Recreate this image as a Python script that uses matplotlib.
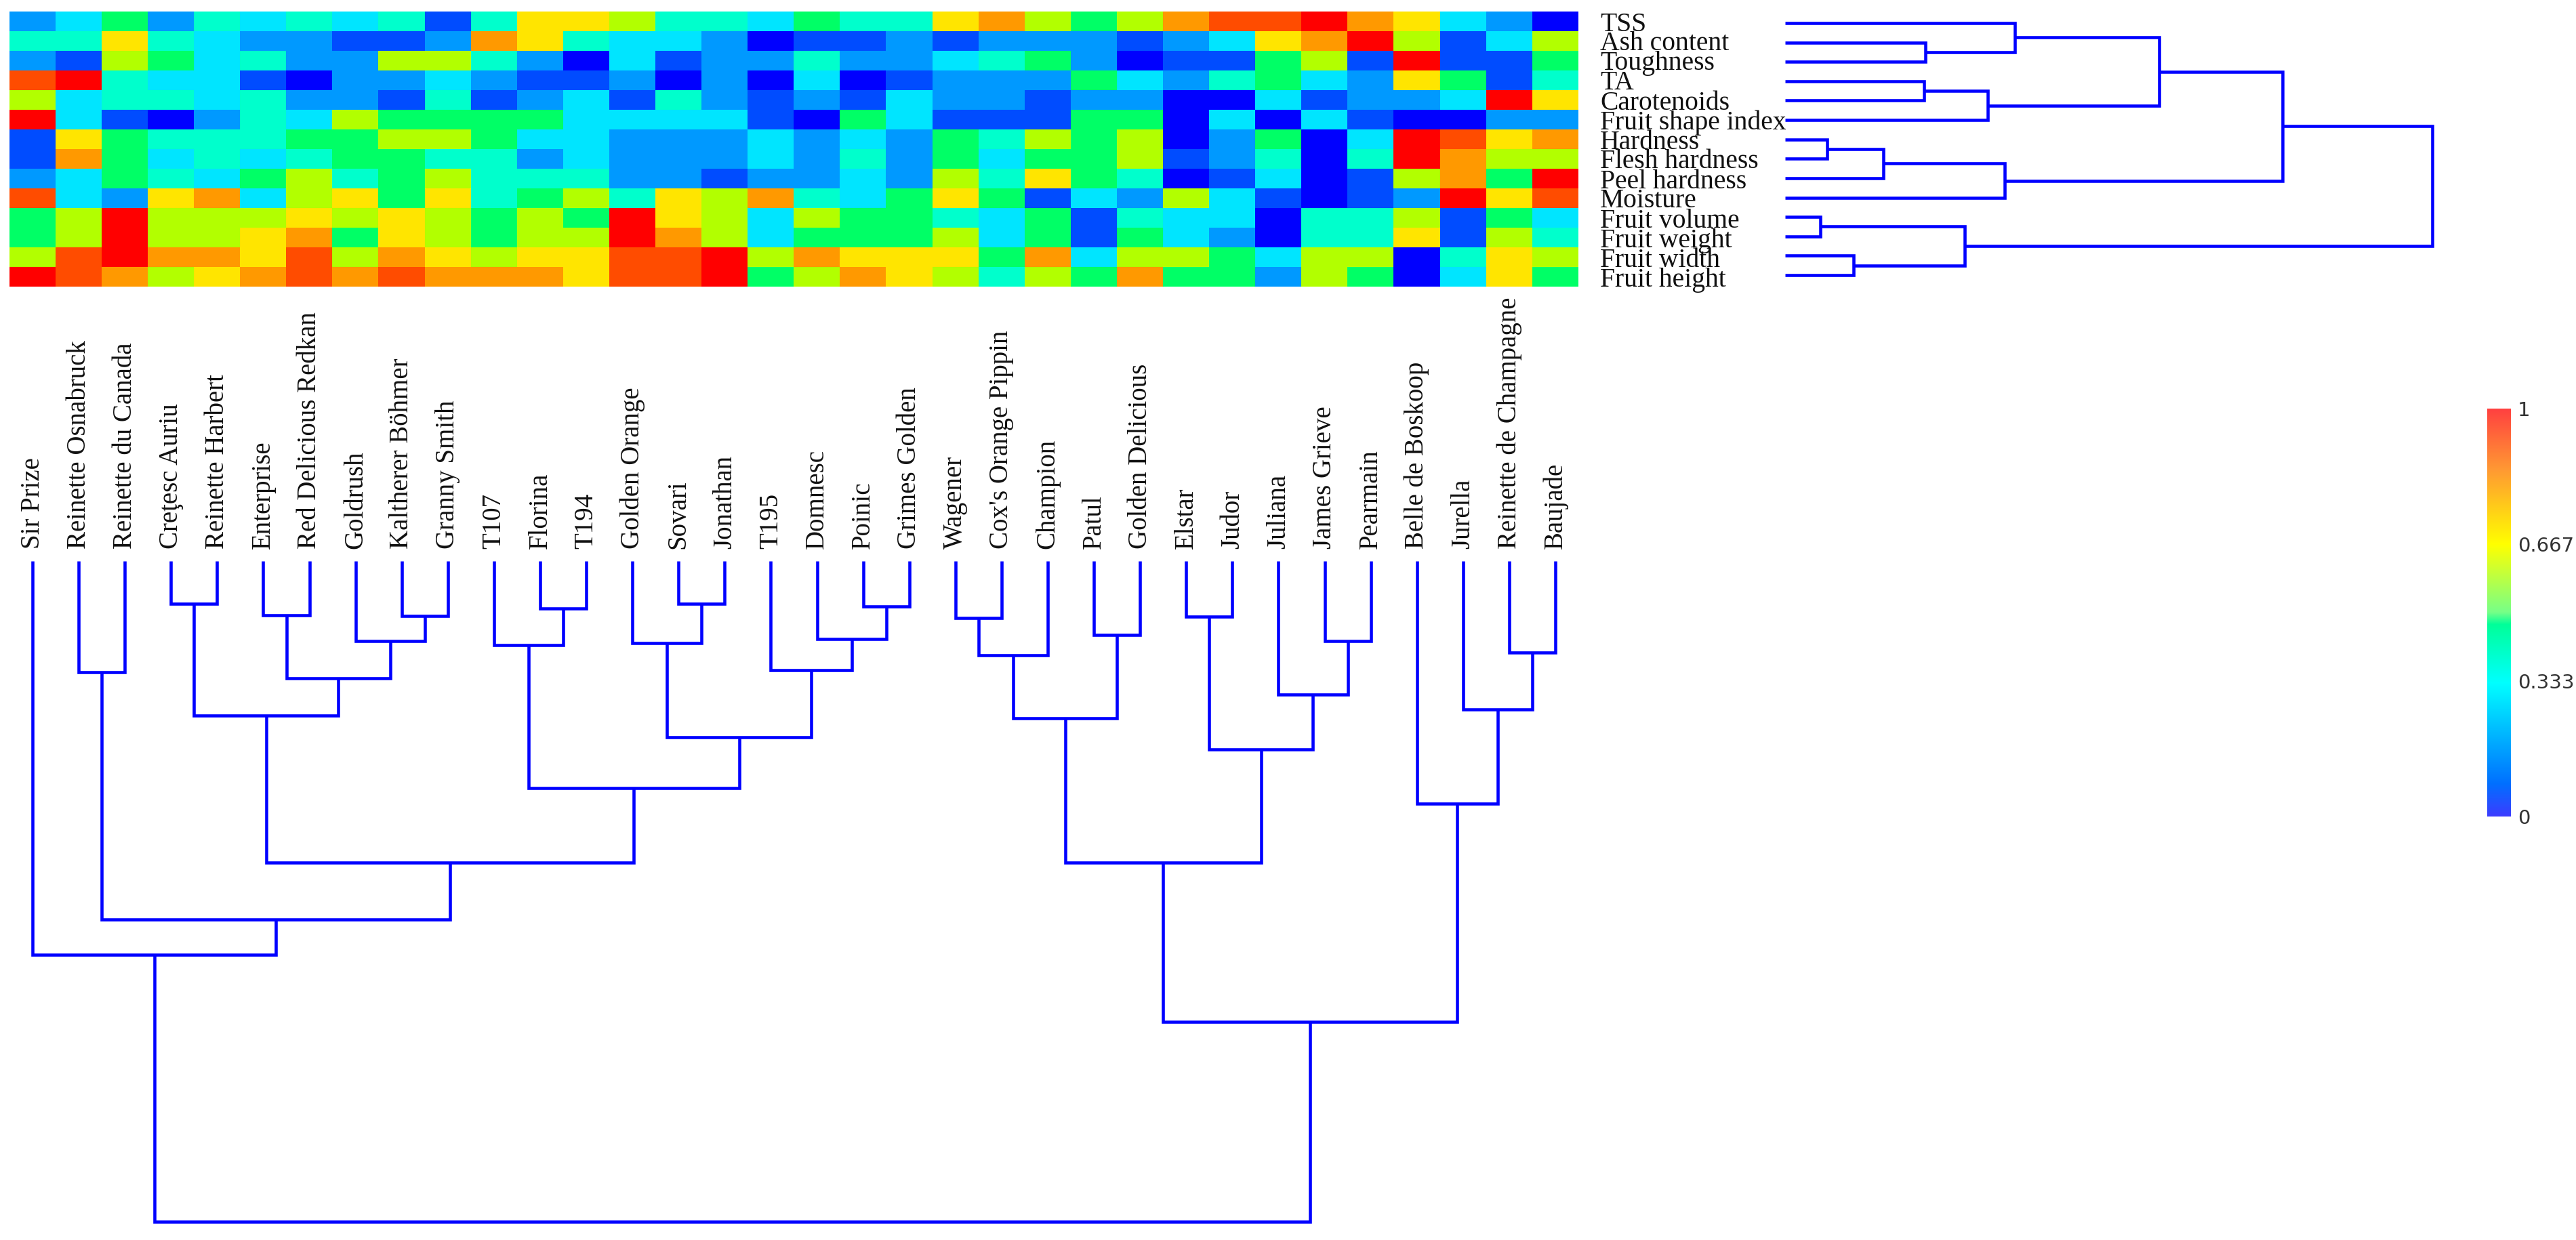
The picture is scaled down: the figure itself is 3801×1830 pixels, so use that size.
import numpy as np
import matplotlib
matplotlib.use("Agg")
import matplotlib.pyplot as plt
from matplotlib.colors import ListedColormap, LinearSegmentedColormap

W, H = 3801, 1830

cultivars = ["Sir Prize", "Reinette Osnabruck", "Reinette du Canada", "Creţesc Auriu",
             "Reinette Harbert", "Enterprise", "Red Delicious Redkan", "Goldrush",
             "Kaltherer Böhmer", "Granny Smith", "T107", "Florina", "T194", "Golden Orange",
             "Sovari", "Jonathan", "T195", "Domnesc", "Poinic", "Grimes Golden", "Wagener",
             "Cox's Orange Pippin", "Champion", "Patul", "Golden Delicious", "Elstar", "Judor",
             "Juliana", "James Grieve", "Pearmain", "Belle de Boskoop", "Jurella",
             "Reinette de Champagne", "Baujade"]

traits = ["TSS", "Ash content", "Toughness", "TA", "Carotenoids", "Fruit shape index",
          "Hardness", "Flesh hardness", "Peel hardness", "Moisture", "Fruit volume",
          "Fruit weight", "Fruit width", "Fruit height"]

# the cells only take 11 colours, so these are colour steps 0-10
tss =       [2,3,5,2,4,3,4,3,4,1,4,7,7,6,4,4,3,5,4,4,7,8,6,5,6,8,9,9,10,8,7,3,2,0]
ash =       [4,4,7,4,3,2,2,1,1,2,8,7,4,3,3,2,0,1,1,2,1,2,2,2,1,2,3,7,8,10,6,1,3,6]
tough =     [2,1,6,5,3,4,2,2,6,6,4,2,0,3,1,2,2,4,2,2,3,4,5,2,0,1,1,5,6,1,10,1,1,5]
ta =        [9,10,4,3,3,1,0,2,2,3,2,1,1,2,0,2,0,3,0,1,2,2,2,5,3,2,4,5,3,2,7,5,1,4]
carot =     [6,3,4,4,3,4,2,2,1,4,1,2,3,1,4,2,1,2,1,3,2,2,1,2,2,0,0,3,1,2,2,3,10,7]
shape =     [10,3,1,0,2,4,3,6,5,5,5,5,3,3,3,3,1,0,5,3,1,1,1,5,5,0,3,0,3,1,0,0,2,2]
hardness =  [1,7,5,4,4,4,5,5,6,6,5,3,3,2,2,2,3,2,3,2,5,4,6,5,6,0,2,5,0,3,10,9,7,8]
flesh =     [1,8,5,3,4,3,4,5,5,4,4,2,3,2,2,2,3,2,4,2,5,3,5,5,6,1,2,4,0,4,10,8,6,6]
peel =      [2,3,5,4,3,5,6,4,5,6,4,4,4,2,2,1,2,2,3,2,6,4,7,5,4,0,1,3,0,1,6,8,5,10]
moisture =  [9,3,2,7,8,3,6,7,5,7,4,5,6,4,7,6,8,4,3,5,7,5,1,3,2,6,3,1,0,1,2,10,7,9]
volume =    [5,6,10,6,6,6,7,6,7,6,5,6,5,10,7,6,3,6,5,5,4,3,5,1,4,3,3,0,4,4,6,1,5,3]
weight =    [5,6,10,6,6,7,8,5,7,6,5,6,6,10,8,6,3,5,5,5,6,3,5,1,5,3,2,0,4,4,7,1,6,4]
width =     [6,9,10,8,8,7,9,6,8,7,6,7,7,9,9,10,6,8,7,7,7,5,8,3,6,6,5,3,6,6,0,4,7,6]
height =    [10,9,8,6,7,8,9,8,9,8,8,8,7,9,9,10,5,6,8,7,6,4,6,5,8,5,5,2,6,5,0,3,7,5]
grid = [tss, ash, tough, ta, carot, shape, hardness, flesh, peel, moisture,
        volume, weight, width, height]

step_colors = ["#0000FF", "#004CFF", "#0099FF", "#00E5FF", "#00FFCC", "#00FF66",
               "#B2FF00", "#FFE500", "#FF9900", "#FF4C00", "#FF0000"]

# merges: left id, right id, height (0-100). ids past the leaves are earlier merges
col_merges = [(3,4,6.5), (5,6,8.2), (8,9,8.3), (7,36,12.1), (35,37,17.7), (34,38,23.4),
              (11,12,7.2), (10,40,12.7), (14,15,6.5), (13,42,12.4), (18,19,6.9), (17,44,11.8),
              (16,45,16.5), (43,46,26.7), (41,47,34.4), (39,48,45.6), (1,2,16.8), (50,49,54.3),
              (0,51,59.6), (20,21,8.6), (53,22,14.3), (23,24,11.2), (54,55,23.8), (25,26,8.4),
              (28,29,12.1), (27,58,20.2), (57,59,28.5), (56,60,45.6), (32,33,13.8), (31,62,22.5),
              (30,63,36.7), (61,64,69.7), (52,65,100)]

row_merges = [(1,2,21.7), (0,14,35.5), (3,4,21.5), (16,5,31.3), (15,17,57.8), (6,7,6.5),
              (19,8,15.2), (20,9,33.9), (18,21,76.9), (10,11,5.4), (12,13,10.6), (23,24,27.7),
              (22,25,100)]

cbar_ticks = [0, 0.333, 0.667, 1]
cbar_labels = ["0", "0.333", "0.667", "1"]
cbar_stops = [(0, "#3C3CFF"), (0.08, "#0070FF"), (0.326, "#00FFFF"), (0.47, "#00FF99"),
              (0.50, "#77FF88"), (0.666, "#FFFF00"), (0.85, "#FF9933"), (1, "#FF4040")]


def px_axes(fig, left, top, right, bottom):
    ax = fig.add_axes([left / W, 1 - bottom / H, (right - left) / W, (bottom - top) / H])
    return ax


def merge_segments(n_leaves, merges):
    # each merge gives a bracket: (h0, p0) -> (h, p0) -> (h, p1) -> (h1, p1)
    pos = {i: float(i) for i in range(n_leaves)}
    hgt = {i: 0.0 for i in range(n_leaves)}
    segs = []
    for k, (a, b, h) in enumerate(merges):
        segs.append(([hgt[a], h, h, hgt[b]], [pos[a], pos[a], pos[b], pos[b]]))
        pos[n_leaves + k] = (pos[a] + pos[b]) / 2
        hgt[n_leaves + k] = h
    return segs


fig = plt.figure(figsize=(W / 100, H / 100), dpi=100, facecolor="white")
serif = ["Liberation Serif", "DejaVu Serif"]
LINE = "#0000FF"
LW = 3.3

ax_heat = px_axes(fig, 14, 17, 2329, 423)
ax_heat.imshow(np.array(grid), cmap=ListedColormap(step_colors), vmin=-0.5, vmax=10.5,
               aspect="auto", interpolation="nearest")
ax_heat.set_xticks([])
ax_heat.yaxis.tick_right()
ax_heat.set_yticks(range(len(traits)))
ax_heat.set_yticklabels(traits, fontsize=28.5, family=serif, color="#111111")
ax_heat.tick_params(axis="y", length=0, pad=23)
for s in ax_heat.spines.values():
    s.set_visible(False)

ax_cols = px_axes(fig, 14, 828, 2329, 1803)
for hs, ps in merge_segments(len(cultivars), col_merges):
    ax_cols.plot(ps, hs, color=LINE, lw=LW, solid_joinstyle="miter", solid_capstyle="butt", clip_on=False)
ax_cols.set_xlim(-0.5, len(cultivars) - 0.5)
ax_cols.set_ylim(100, 0)
ax_cols.xaxis.tick_top()
ax_cols.set_xticks(range(len(cultivars)))
ax_cols.set_xticklabels(cultivars, rotation=90, fontsize=28, family=serif, color="#111111")
ax_cols.tick_params(axis="x", length=0, pad=13)
ax_cols.set_yticks([])
for s in ax_cols.spines.values():
    s.set_visible(False)

ax_rows = px_axes(fig, 2634, 34, 3589, 406)
for hs, ps in merge_segments(len(traits), row_merges):
    ax_rows.plot(hs, ps, color=LINE, lw=LW, solid_joinstyle="miter", solid_capstyle="butt", clip_on=False)
ax_rows.set_xlim(0, 100)
ax_rows.set_ylim(len(traits) - 1, 0)
ax_rows.axis("off")

ax_bar = px_axes(fig, 3670, 603, 3705, 1205)
bar_cmap = LinearSegmentedColormap.from_list("bar", cbar_stops, N=512)
ax_bar.imshow(np.linspace(1, 0, 512).reshape(-1, 1), cmap=bar_cmap, vmin=0, vmax=1,
              aspect="auto", extent=[0, 1, 0, 1])
ax_bar.set_xticks([])
ax_bar.yaxis.tick_right()
ax_bar.set_yticks(cbar_ticks)
ax_bar.set_yticklabels(cbar_labels, fontsize=21, color="#333333")
ax_bar.tick_params(axis="y", length=0, pad=7)
for s in ax_bar.spines.values():
    s.set_visible(False)

fig.savefig("out.png", dpi=100, facecolor="white")
